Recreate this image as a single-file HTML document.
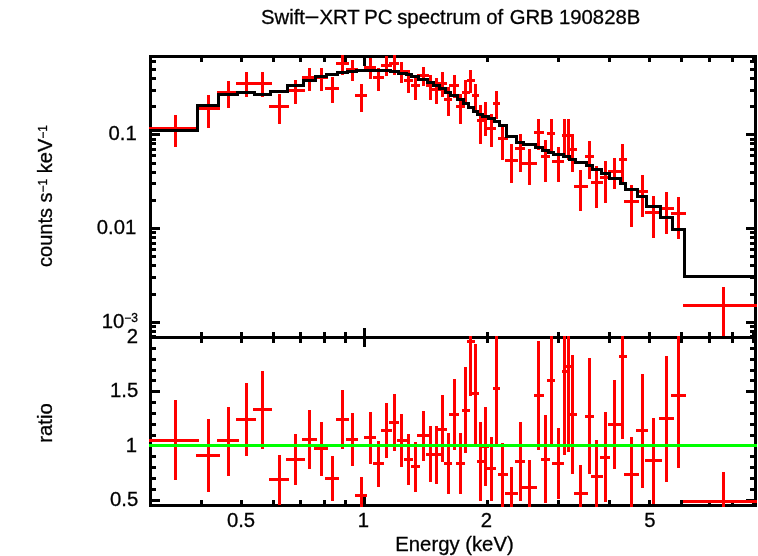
<!DOCTYPE html>
<html lang="en"><head><meta charset="utf-8"><title>Swift-XRT PC spectrum of GRB 190828B</title>
<style>
html,body{margin:0;padding:0;background:#fff}
body{width:758px;height:556px;overflow:hidden}
svg{display:block}
text{font-family:"Liberation Sans",Arial,Helvetica,sans-serif;fill:#000;stroke:#000;stroke-width:.3px}
</style></head><body>
<svg width="758" height="556" viewBox="0 0 758 556">
<rect width="758" height="556" fill="#fff"/>
<g shape-rendering="crispEdges">
<g id="frame">
<rect x="149" y="55" width="608" height="3" fill="#000"/>
<rect x="149" y="55" width="3" height="452" fill="#000"/>
<rect x="754" y="55" width="3" height="452" fill="#000"/>
<rect x="149" y="336" width="608" height="3" fill="#000"/>
<rect x="149" y="504" width="608" height="3" fill="#000"/>
<rect x="200" y="58" width="3" height="4" fill="#000"/>
<rect x="200" y="332" width="3" height="4" fill="#000"/>
<rect x="200" y="339" width="3" height="4" fill="#000"/>
<rect x="200" y="500" width="3" height="4" fill="#000"/>
<rect x="240" y="58" width="3" height="4" fill="#000"/>
<rect x="240" y="332" width="3" height="4" fill="#000"/>
<rect x="240" y="339" width="3" height="4" fill="#000"/>
<rect x="240" y="500" width="3" height="4" fill="#000"/>
<rect x="272" y="58" width="3" height="4" fill="#000"/>
<rect x="272" y="332" width="3" height="4" fill="#000"/>
<rect x="272" y="339" width="3" height="4" fill="#000"/>
<rect x="272" y="500" width="3" height="4" fill="#000"/>
<rect x="299" y="58" width="3" height="4" fill="#000"/>
<rect x="299" y="332" width="3" height="4" fill="#000"/>
<rect x="299" y="339" width="3" height="4" fill="#000"/>
<rect x="299" y="500" width="3" height="4" fill="#000"/>
<rect x="323" y="58" width="3" height="4" fill="#000"/>
<rect x="323" y="332" width="3" height="4" fill="#000"/>
<rect x="323" y="339" width="3" height="4" fill="#000"/>
<rect x="323" y="500" width="3" height="4" fill="#000"/>
<rect x="344" y="58" width="3" height="4" fill="#000"/>
<rect x="344" y="332" width="3" height="4" fill="#000"/>
<rect x="344" y="339" width="3" height="4" fill="#000"/>
<rect x="344" y="500" width="3" height="4" fill="#000"/>
<rect x="363" y="58" width="3" height="8" fill="#000"/>
<rect x="363" y="328" width="3" height="8" fill="#000"/>
<rect x="363" y="339" width="3" height="8" fill="#000"/>
<rect x="363" y="496" width="3" height="8" fill="#000"/>
<rect x="486" y="58" width="3" height="4" fill="#000"/>
<rect x="486" y="332" width="3" height="4" fill="#000"/>
<rect x="486" y="339" width="3" height="4" fill="#000"/>
<rect x="486" y="500" width="3" height="4" fill="#000"/>
<rect x="557" y="58" width="3" height="4" fill="#000"/>
<rect x="557" y="332" width="3" height="4" fill="#000"/>
<rect x="557" y="339" width="3" height="4" fill="#000"/>
<rect x="557" y="500" width="3" height="4" fill="#000"/>
<rect x="608" y="58" width="3" height="4" fill="#000"/>
<rect x="608" y="332" width="3" height="4" fill="#000"/>
<rect x="608" y="339" width="3" height="4" fill="#000"/>
<rect x="608" y="500" width="3" height="4" fill="#000"/>
<rect x="648" y="58" width="3" height="4" fill="#000"/>
<rect x="648" y="332" width="3" height="4" fill="#000"/>
<rect x="648" y="339" width="3" height="4" fill="#000"/>
<rect x="648" y="500" width="3" height="4" fill="#000"/>
<rect x="680" y="58" width="3" height="4" fill="#000"/>
<rect x="680" y="332" width="3" height="4" fill="#000"/>
<rect x="680" y="339" width="3" height="4" fill="#000"/>
<rect x="680" y="500" width="3" height="4" fill="#000"/>
<rect x="708" y="58" width="3" height="4" fill="#000"/>
<rect x="708" y="332" width="3" height="4" fill="#000"/>
<rect x="708" y="339" width="3" height="4" fill="#000"/>
<rect x="708" y="500" width="3" height="4" fill="#000"/>
<rect x="731" y="58" width="3" height="4" fill="#000"/>
<rect x="731" y="332" width="3" height="4" fill="#000"/>
<rect x="731" y="339" width="3" height="4" fill="#000"/>
<rect x="731" y="500" width="3" height="4" fill="#000"/>
<rect x="752" y="58" width="3" height="4" fill="#000"/>
<rect x="752" y="332" width="3" height="4" fill="#000"/>
<rect x="752" y="339" width="3" height="4" fill="#000"/>
<rect x="752" y="500" width="3" height="4" fill="#000"/>
<rect x="152" y="335" width="4" height="3" fill="#000"/>
<rect x="750" y="335" width="4" height="3" fill="#000"/>
<rect x="152" y="330" width="4" height="3" fill="#000"/>
<rect x="750" y="330" width="4" height="3" fill="#000"/>
<rect x="152" y="325" width="4" height="3" fill="#000"/>
<rect x="750" y="325" width="4" height="3" fill="#000"/>
<rect x="152" y="321" width="8" height="3" fill="#000"/>
<rect x="746" y="321" width="8" height="3" fill="#000"/>
<rect x="152" y="293" width="4" height="3" fill="#000"/>
<rect x="750" y="293" width="4" height="3" fill="#000"/>
<rect x="152" y="276" width="4" height="3" fill="#000"/>
<rect x="750" y="276" width="4" height="3" fill="#000"/>
<rect x="152" y="264" width="4" height="3" fill="#000"/>
<rect x="750" y="264" width="4" height="3" fill="#000"/>
<rect x="152" y="255" width="4" height="3" fill="#000"/>
<rect x="750" y="255" width="4" height="3" fill="#000"/>
<rect x="152" y="248" width="4" height="3" fill="#000"/>
<rect x="750" y="248" width="4" height="3" fill="#000"/>
<rect x="152" y="242" width="4" height="3" fill="#000"/>
<rect x="750" y="242" width="4" height="3" fill="#000"/>
<rect x="152" y="236" width="4" height="3" fill="#000"/>
<rect x="750" y="236" width="4" height="3" fill="#000"/>
<rect x="152" y="231" width="4" height="3" fill="#000"/>
<rect x="750" y="231" width="4" height="3" fill="#000"/>
<rect x="152" y="227" width="8" height="3" fill="#000"/>
<rect x="746" y="227" width="8" height="3" fill="#000"/>
<rect x="152" y="199" width="4" height="3" fill="#000"/>
<rect x="750" y="199" width="4" height="3" fill="#000"/>
<rect x="152" y="182" width="4" height="3" fill="#000"/>
<rect x="750" y="182" width="4" height="3" fill="#000"/>
<rect x="152" y="171" width="4" height="3" fill="#000"/>
<rect x="750" y="171" width="4" height="3" fill="#000"/>
<rect x="152" y="162" width="4" height="3" fill="#000"/>
<rect x="750" y="162" width="4" height="3" fill="#000"/>
<rect x="152" y="154" width="4" height="3" fill="#000"/>
<rect x="750" y="154" width="4" height="3" fill="#000"/>
<rect x="152" y="148" width="4" height="3" fill="#000"/>
<rect x="750" y="148" width="4" height="3" fill="#000"/>
<rect x="152" y="142" width="4" height="3" fill="#000"/>
<rect x="750" y="142" width="4" height="3" fill="#000"/>
<rect x="152" y="138" width="4" height="3" fill="#000"/>
<rect x="750" y="138" width="4" height="3" fill="#000"/>
<rect x="152" y="133" width="8" height="3" fill="#000"/>
<rect x="746" y="133" width="8" height="3" fill="#000"/>
<rect x="152" y="105" width="4" height="3" fill="#000"/>
<rect x="750" y="105" width="4" height="3" fill="#000"/>
<rect x="152" y="89" width="4" height="3" fill="#000"/>
<rect x="750" y="89" width="4" height="3" fill="#000"/>
<rect x="152" y="77" width="4" height="3" fill="#000"/>
<rect x="750" y="77" width="4" height="3" fill="#000"/>
<rect x="152" y="68" width="4" height="3" fill="#000"/>
<rect x="750" y="68" width="4" height="3" fill="#000"/>
<rect x="152" y="60" width="4" height="3" fill="#000"/>
<rect x="750" y="60" width="4" height="3" fill="#000"/>
<rect x="152" y="499" width="8" height="3" fill="#000"/>
<rect x="746" y="499" width="8" height="3" fill="#000"/>
<rect x="152" y="488" width="4" height="3" fill="#000"/>
<rect x="750" y="488" width="4" height="3" fill="#000"/>
<rect x="152" y="477" width="4" height="3" fill="#000"/>
<rect x="750" y="477" width="4" height="3" fill="#000"/>
<rect x="152" y="466" width="4" height="3" fill="#000"/>
<rect x="750" y="466" width="4" height="3" fill="#000"/>
<rect x="152" y="455" width="4" height="3" fill="#000"/>
<rect x="750" y="455" width="4" height="3" fill="#000"/>
<rect x="152" y="444" width="8" height="3" fill="#000"/>
<rect x="746" y="444" width="8" height="3" fill="#000"/>
<rect x="152" y="434" width="4" height="3" fill="#000"/>
<rect x="750" y="434" width="4" height="3" fill="#000"/>
<rect x="152" y="423" width="4" height="3" fill="#000"/>
<rect x="750" y="423" width="4" height="3" fill="#000"/>
<rect x="152" y="412" width="4" height="3" fill="#000"/>
<rect x="750" y="412" width="4" height="3" fill="#000"/>
<rect x="152" y="401" width="4" height="3" fill="#000"/>
<rect x="750" y="401" width="4" height="3" fill="#000"/>
<rect x="152" y="390" width="8" height="3" fill="#000"/>
<rect x="746" y="390" width="8" height="3" fill="#000"/>
<rect x="152" y="379" width="4" height="3" fill="#000"/>
<rect x="750" y="379" width="4" height="3" fill="#000"/>
<rect x="152" y="369" width="4" height="3" fill="#000"/>
<rect x="750" y="369" width="4" height="3" fill="#000"/>
<rect x="152" y="358" width="4" height="3" fill="#000"/>
<rect x="750" y="358" width="4" height="3" fill="#000"/>
<rect x="152" y="347" width="4" height="3" fill="#000"/>
<rect x="750" y="347" width="4" height="3" fill="#000"/>
</g>
<g id="data-top">
<rect x="174" y="115" width="3" height="32" fill="#f00"/>
<rect x="149" y="127" width="50" height="3" fill="#f00"/>
<rect x="207" y="95" width="3" height="33" fill="#f00"/>
<rect x="196" y="107" width="24" height="3" fill="#f00"/>
<rect x="227" y="81" width="3" height="27" fill="#f00"/>
<rect x="217" y="91" width="22" height="3" fill="#f00"/>
<rect x="245" y="72" width="3" height="25" fill="#f00"/>
<rect x="236" y="82" width="20" height="3" fill="#f00"/>
<rect x="261" y="72" width="3" height="25" fill="#f00"/>
<rect x="253" y="82" width="19" height="3" fill="#f00"/>
<rect x="278" y="94" width="3" height="30" fill="#f00"/>
<rect x="269" y="105" width="20" height="3" fill="#f00"/>
<rect x="294" y="80" width="3" height="24" fill="#f00"/>
<rect x="286" y="89" width="19" height="3" fill="#f00"/>
<rect x="308" y="68" width="3" height="23" fill="#f00"/>
<rect x="302" y="76" width="15" height="3" fill="#f00"/>
<rect x="320" y="68" width="3" height="23" fill="#f00"/>
<rect x="314" y="76" width="14" height="3" fill="#f00"/>
<rect x="331" y="77" width="3" height="26" fill="#f00"/>
<rect x="325" y="87" width="14" height="3" fill="#f00"/>
<rect x="341" y="55" width="3" height="20" fill="#f00"/>
<rect x="336" y="62" width="13" height="3" fill="#f00"/>
<rect x="351" y="60" width="3" height="21" fill="#f00"/>
<rect x="346" y="68" width="12" height="3" fill="#f00"/>
<rect x="360" y="84" width="3" height="28" fill="#f00"/>
<rect x="355" y="94" width="12" height="3" fill="#f00"/>
<rect x="369" y="58" width="3" height="21" fill="#f00"/>
<rect x="364" y="66" width="12" height="3" fill="#f00"/>
<rect x="377" y="68" width="3" height="23" fill="#f00"/>
<rect x="373" y="76" width="11" height="3" fill="#f00"/>
<rect x="385" y="56" width="3" height="20" fill="#f00"/>
<rect x="381" y="64" width="11" height="3" fill="#f00"/>
<rect x="393" y="55" width="3" height="20" fill="#f00"/>
<rect x="389" y="62" width="10" height="3" fill="#f00"/>
<rect x="400" y="62" width="3" height="21" fill="#f00"/>
<rect x="397" y="70" width="10" height="3" fill="#f00"/>
<rect x="407" y="70" width="3" height="23" fill="#f00"/>
<rect x="404" y="79" width="9" height="3" fill="#f00"/>
<rect x="414" y="78" width="3" height="22" fill="#f00"/>
<rect x="411" y="84" width="9" height="3" fill="#f00"/>
<rect x="422" y="67" width="3" height="19" fill="#f00"/>
<rect x="417" y="74" width="12" height="3" fill="#f00"/>
<rect x="429" y="75" width="3" height="25" fill="#f00"/>
<rect x="426" y="84" width="9" height="3" fill="#f00"/>
<rect x="435" y="78" width="3" height="26" fill="#f00"/>
<rect x="432" y="88" width="9" height="3" fill="#f00"/>
<rect x="441" y="72" width="3" height="25" fill="#f00"/>
<rect x="438" y="82" width="9" height="3" fill="#f00"/>
<rect x="447" y="87" width="3" height="29" fill="#f00"/>
<rect x="444" y="98" width="8" height="3" fill="#f00"/>
<rect x="453" y="75" width="3" height="23" fill="#f00"/>
<rect x="449" y="84" width="10" height="3" fill="#f00"/>
<rect x="459" y="94" width="3" height="30" fill="#f00"/>
<rect x="456" y="105" width="9" height="3" fill="#f00"/>
<rect x="464" y="80" width="3" height="25" fill="#f00"/>
<rect x="462" y="91" width="8" height="3" fill="#f00"/>
<rect x="469" y="70" width="3" height="23" fill="#f00"/>
<rect x="467" y="79" width="8" height="3" fill="#f00"/>
<rect x="474" y="84" width="3" height="26" fill="#f00"/>
<rect x="472" y="94" width="7" height="3" fill="#f00"/>
<rect x="479" y="105" width="3" height="39" fill="#f00"/>
<rect x="477" y="119" width="7" height="3" fill="#f00"/>
<rect x="484" y="102" width="3" height="34" fill="#f00"/>
<rect x="482" y="116" width="7" height="3" fill="#f00"/>
<rect x="490" y="114" width="3" height="33" fill="#f00"/>
<rect x="487" y="127" width="9" height="3" fill="#f00"/>
<rect x="495" y="91" width="3" height="28" fill="#f00"/>
<rect x="493" y="102" width="7" height="3" fill="#f00"/>
<rect x="501" y="124" width="3" height="36" fill="#f00"/>
<rect x="498" y="137" width="10" height="3" fill="#f00"/>
<rect x="510" y="144" width="3" height="39" fill="#f00"/>
<rect x="505" y="159" width="13" height="3" fill="#f00"/>
<rect x="519" y="134" width="3" height="38" fill="#f00"/>
<rect x="515" y="147" width="10" height="3" fill="#f00"/>
<rect x="528" y="149" width="3" height="36" fill="#f00"/>
<rect x="522" y="162" width="15" height="3" fill="#f00"/>
<rect x="537" y="119" width="3" height="31" fill="#f00"/>
<rect x="534" y="131" width="10" height="3" fill="#f00"/>
<rect x="544" y="140" width="3" height="42" fill="#f00"/>
<rect x="541" y="155" width="9" height="3" fill="#f00"/>
<rect x="550" y="119" width="3" height="32" fill="#f00"/>
<rect x="547" y="132" width="8" height="3" fill="#f00"/>
<rect x="557" y="147" width="3" height="35" fill="#f00"/>
<rect x="552" y="160" width="12" height="3" fill="#f00"/>
<rect x="563" y="119" width="3" height="39" fill="#f00"/>
<rect x="562" y="134" width="8" height="3" fill="#f00"/>
<rect x="567" y="119" width="3" height="41" fill="#f00"/>
<rect x="565" y="134" width="9" height="3" fill="#f00"/>
<rect x="571" y="134" width="3" height="38" fill="#f00"/>
<rect x="568" y="148" width="9" height="3" fill="#f00"/>
<rect x="579" y="170" width="3" height="41" fill="#f00"/>
<rect x="574" y="185" width="14" height="3" fill="#f00"/>
<rect x="588" y="141" width="3" height="38" fill="#f00"/>
<rect x="585" y="155" width="9" height="3" fill="#f00"/>
<rect x="595" y="166" width="3" height="42" fill="#f00"/>
<rect x="591" y="181" width="12" height="3" fill="#f00"/>
<rect x="604" y="161" width="3" height="42" fill="#f00"/>
<rect x="600" y="176" width="11" height="3" fill="#f00"/>
<rect x="613" y="158" width="3" height="31" fill="#f00"/>
<rect x="608" y="170" width="14" height="3" fill="#f00"/>
<rect x="621" y="144" width="3" height="38" fill="#f00"/>
<rect x="619" y="158" width="8" height="3" fill="#f00"/>
<rect x="630" y="185" width="3" height="42" fill="#f00"/>
<rect x="624" y="200" width="15" height="3" fill="#f00"/>
<rect x="641" y="175" width="3" height="42" fill="#f00"/>
<rect x="636" y="190" width="12" height="3" fill="#f00"/>
<rect x="652" y="196" width="3" height="42" fill="#f00"/>
<rect x="645" y="211" width="17" height="3" fill="#f00"/>
<rect x="665" y="192" width="3" height="42" fill="#f00"/>
<rect x="659" y="207" width="15" height="3" fill="#f00"/>
<rect x="677" y="197" width="3" height="42" fill="#f00"/>
<rect x="671" y="212" width="15" height="3" fill="#f00"/>
<rect x="722" y="287" width="3" height="49" fill="#f00"/>
<rect x="683" y="304" width="74" height="3" fill="#f00"/>
</g>
<g id="model">
<path d="M149.0 130.5H197.5V105.5H218.5V94.5H237.5V92.5H254.5V94.5H270.5V91.5H287.5V85.5H303.5V80.5H315.5V76.5H326.5V74.5H337.5V72.5H347.5V71.5H356.5V70.5H365.5V70.5H374.5V70.5H382.5V70.5H390.5V71.5H398.5V73.5H406.5V74.5H411.5V76.5H418.5V79.5H427.5V82.5H433.5V85.5H439.5V88.5H445.5V92.5H450.5V95.5H457.5V99.5H463.5V103.5H468.5V107.5H473.5V111.5H477.5V114.5H482.5V116.5H488.5V118.5H494.5V121.5H499.5V125.5H506.5V136.5H516.5V142.5H523.5V144.5H535.5V147.5H542.5V150.5H548.5V152.5H553.5V154.5H563.5V156.5H569.5V159.5H575.5V162.5H586.5V165.5H592.5V169.5H601.5V173.5H609.5V178.5H620.5V183.5H625.5V189.5H637.5V196.5H646.5V206.5H660.5V217.5H672.5V229.5H684.5V276.5H757" fill="none" stroke="#000" stroke-width="3" stroke-linejoin="miter"/>
</g>
<g id="data-ratio">
<rect x="174" y="400" width="3" height="80" fill="#f00"/>
<rect x="149" y="439" width="50" height="3" fill="#f00"/>
<rect x="207" y="419" width="3" height="73" fill="#f00"/>
<rect x="196" y="454" width="24" height="3" fill="#f00"/>
<rect x="227" y="407" width="3" height="69" fill="#f00"/>
<rect x="217" y="439" width="22" height="3" fill="#f00"/>
<rect x="245" y="383" width="3" height="73" fill="#f00"/>
<rect x="236" y="418" width="20" height="3" fill="#f00"/>
<rect x="261" y="371" width="3" height="78" fill="#f00"/>
<rect x="253" y="408" width="19" height="3" fill="#f00"/>
<rect x="278" y="455" width="3" height="50" fill="#f00"/>
<rect x="269" y="478" width="20" height="3" fill="#f00"/>
<rect x="294" y="434" width="3" height="51" fill="#f00"/>
<rect x="286" y="458" width="19" height="3" fill="#f00"/>
<rect x="308" y="410" width="3" height="59" fill="#f00"/>
<rect x="302" y="438" width="15" height="3" fill="#f00"/>
<rect x="320" y="422" width="3" height="54" fill="#f00"/>
<rect x="314" y="447" width="14" height="3" fill="#f00"/>
<rect x="331" y="456" width="3" height="45" fill="#f00"/>
<rect x="325" y="477" width="14" height="3" fill="#f00"/>
<rect x="341" y="390" width="3" height="59" fill="#f00"/>
<rect x="336" y="418" width="13" height="3" fill="#f00"/>
<rect x="351" y="413" width="3" height="53" fill="#f00"/>
<rect x="346" y="438" width="12" height="3" fill="#f00"/>
<rect x="360" y="477" width="3" height="30" fill="#f00"/>
<rect x="355" y="494" width="12" height="3" fill="#f00"/>
<rect x="369" y="412" width="3" height="52" fill="#f00"/>
<rect x="364" y="436" width="12" height="3" fill="#f00"/>
<rect x="377" y="441" width="3" height="46" fill="#f00"/>
<rect x="373" y="462" width="11" height="3" fill="#f00"/>
<rect x="385" y="403" width="3" height="55" fill="#f00"/>
<rect x="381" y="429" width="11" height="3" fill="#f00"/>
<rect x="393" y="394" width="3" height="57" fill="#f00"/>
<rect x="389" y="421" width="10" height="3" fill="#f00"/>
<rect x="400" y="414" width="3" height="53" fill="#f00"/>
<rect x="397" y="439" width="10" height="3" fill="#f00"/>
<rect x="407" y="434" width="3" height="51" fill="#f00"/>
<rect x="404" y="458" width="9" height="3" fill="#f00"/>
<rect x="414" y="442" width="3" height="50" fill="#f00"/>
<rect x="411" y="465" width="9" height="3" fill="#f00"/>
<rect x="422" y="411" width="3" height="50" fill="#f00"/>
<rect x="417" y="434" width="12" height="3" fill="#f00"/>
<rect x="429" y="426" width="3" height="56" fill="#f00"/>
<rect x="426" y="453" width="9" height="3" fill="#f00"/>
<rect x="435" y="426" width="3" height="58" fill="#f00"/>
<rect x="432" y="453" width="9" height="3" fill="#f00"/>
<rect x="441" y="395" width="3" height="67" fill="#f00"/>
<rect x="438" y="428" width="9" height="3" fill="#f00"/>
<rect x="447" y="433" width="3" height="61" fill="#f00"/>
<rect x="444" y="462" width="8" height="3" fill="#f00"/>
<rect x="453" y="379" width="3" height="71" fill="#f00"/>
<rect x="449" y="413" width="10" height="3" fill="#f00"/>
<rect x="459" y="433" width="3" height="61" fill="#f00"/>
<rect x="456" y="462" width="9" height="3" fill="#f00"/>
<rect x="464" y="367" width="3" height="86" fill="#f00"/>
<rect x="462" y="409" width="8" height="3" fill="#f00"/>
<rect x="469" y="336" width="3" height="60" fill="#f00"/>
<rect x="467" y="340" width="8" height="3" fill="#f00"/>
<rect x="474" y="344" width="3" height="100" fill="#f00"/>
<rect x="472" y="392" width="7" height="3" fill="#f00"/>
<rect x="479" y="422" width="3" height="79" fill="#f00"/>
<rect x="477" y="460" width="7" height="3" fill="#f00"/>
<rect x="484" y="407" width="3" height="79" fill="#f00"/>
<rect x="482" y="445" width="7" height="3" fill="#f00"/>
<rect x="490" y="437" width="3" height="64" fill="#f00"/>
<rect x="487" y="467" width="9" height="3" fill="#f00"/>
<rect x="495" y="336" width="3" height="110" fill="#f00"/>
<rect x="493" y="387" width="7" height="3" fill="#f00"/>
<rect x="501" y="443" width="3" height="64" fill="#f00"/>
<rect x="498" y="473" width="10" height="3" fill="#f00"/>
<rect x="510" y="467" width="3" height="40" fill="#f00"/>
<rect x="505" y="492" width="13" height="3" fill="#f00"/>
<rect x="519" y="422" width="3" height="79" fill="#f00"/>
<rect x="515" y="460" width="10" height="3" fill="#f00"/>
<rect x="528" y="460" width="3" height="47" fill="#f00"/>
<rect x="522" y="486" width="15" height="3" fill="#f00"/>
<rect x="537" y="341" width="3" height="109" fill="#f00"/>
<rect x="534" y="394" width="10" height="3" fill="#f00"/>
<rect x="544" y="415" width="3" height="88" fill="#f00"/>
<rect x="541" y="458" width="9" height="3" fill="#f00"/>
<rect x="550" y="336" width="3" height="110" fill="#f00"/>
<rect x="547" y="379" width="8" height="3" fill="#f00"/>
<rect x="557" y="428" width="3" height="71" fill="#f00"/>
<rect x="552" y="462" width="12" height="3" fill="#f00"/>
<rect x="563" y="336" width="3" height="119" fill="#f00"/>
<rect x="562" y="370" width="6" height="3" fill="#f00"/>
<rect x="567" y="336" width="3" height="116" fill="#f00"/>
<rect x="565" y="365" width="7" height="3" fill="#f00"/>
<rect x="571" y="355" width="3" height="119" fill="#f00"/>
<rect x="568" y="413" width="9" height="3" fill="#f00"/>
<rect x="579" y="465" width="3" height="42" fill="#f00"/>
<rect x="574" y="492" width="14" height="3" fill="#f00"/>
<rect x="588" y="358" width="3" height="116" fill="#f00"/>
<rect x="585" y="415" width="9" height="3" fill="#f00"/>
<rect x="595" y="440" width="3" height="67" fill="#f00"/>
<rect x="591" y="475" width="12" height="3" fill="#f00"/>
<rect x="604" y="412" width="3" height="90" fill="#f00"/>
<rect x="600" y="456" width="10" height="3" fill="#f00"/>
<rect x="613" y="380" width="3" height="89" fill="#f00"/>
<rect x="608" y="423" width="14" height="3" fill="#f00"/>
<rect x="621" y="336" width="3" height="103" fill="#f00"/>
<rect x="619" y="355" width="8" height="3" fill="#f00"/>
<rect x="630" y="437" width="3" height="70" fill="#f00"/>
<rect x="624" y="473" width="15" height="3" fill="#f00"/>
<rect x="641" y="374" width="3" height="114" fill="#f00"/>
<rect x="636" y="429" width="12" height="3" fill="#f00"/>
<rect x="652" y="418" width="3" height="86" fill="#f00"/>
<rect x="645" y="459" width="17" height="3" fill="#f00"/>
<rect x="665" y="356" width="3" height="126" fill="#f00"/>
<rect x="659" y="417" width="15" height="3" fill="#f00"/>
<rect x="677" y="336" width="3" height="132" fill="#f00"/>
<rect x="671" y="394" width="15" height="3" fill="#f00"/>
<rect x="722" y="472" width="3" height="35" fill="#f00"/>
<rect x="683" y="500" width="74" height="3" fill="#f00"/>
</g>
<rect x="149" y="444" width="608" height="3" fill="#0f0"/>
</g>
<g id="labels">
<text y="23.5" font-size="20.3"><tspan x="261">Swift</tspan><tspan x="304.6" textLength="14.9" lengthAdjust="spacingAndGlyphs">−</tspan><tspan x="319.4">XRT</tspan><tspan x="358.6"> PC</tspan><tspan x="391.6"> spectrum</tspan><tspan x="480.6"> of</tspan><tspan x="504"> GRB</tspan><tspan x="553.4"> 190828B</tspan></text>
<text x="454.5" y="550.5" font-size="20.3" text-anchor="middle">Energy (keV)</text>
<text x="241.0" y="526.5" font-size="20.3" text-anchor="middle">0.5</text>
<text x="363.5" y="526.5" font-size="20.3" text-anchor="middle">1</text>
<text x="486.5" y="526.5" font-size="20.3" text-anchor="middle">2</text>
<text x="649.8" y="526.5" font-size="20.3" text-anchor="middle">5</text>
<text x="136.7" y="140" font-size="20.3" text-anchor="end">0.1</text>
<text x="136.3" y="234" font-size="20.3" text-anchor="end">0.01</text>
<text x="138" y="328" font-size="20.3" text-anchor="end">10<tspan font-size="12" dy="-6.5">−3</tspan></text>
<text x="138" y="343" font-size="20.3" text-anchor="end">2</text>
<text x="138.3" y="397" font-size="20.3" text-anchor="end">1.5</text>
<text x="137" y="451.5" font-size="20.3" text-anchor="end">1</text>
<text x="138.3" y="506" font-size="20.3" text-anchor="end">0.5</text>
<text transform="translate(52.3 196) rotate(-90)" font-size="20" text-anchor="middle">counts s<tspan font-size="12" dy="-5.5">−1</tspan><tspan dy="5.5"> keV</tspan><tspan font-size="12" dy="-5.5">−1</tspan></text>
<text transform="translate(52 423) rotate(-90)" font-size="20.3" text-anchor="middle">ratio</text>
</g>
</svg>
</body></html>
